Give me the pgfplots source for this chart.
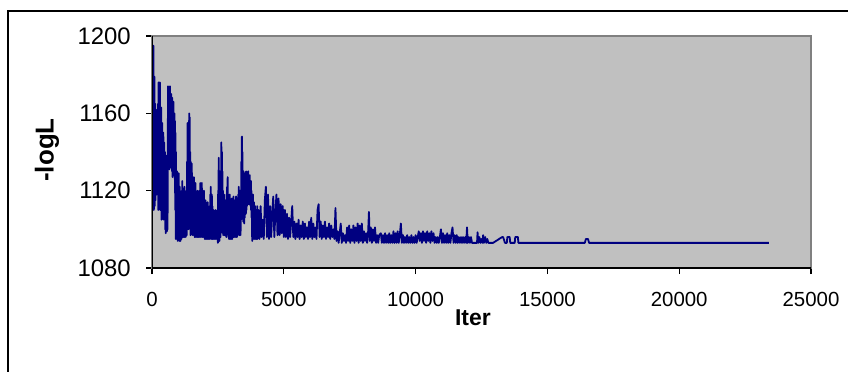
\documentclass[border=0pt]{standalone}
\usepackage{pgfplots}
\pgfplotsset{compat=1.18}
\usepackage{fontspec}
\setmainfont{Liberation Sans}
\definecolor{plotgray}{HTML}{C0C0C0}
\definecolor{navyline}{HTML}{000080}
\definecolor{bordergray}{HTML}{808080}
\begin{document}
\begin{tikzpicture}[x=1bp,y=1bp]
\useasboundingbox (0,0) rectangle (848,371);
\begin{scope}
\clip (0,0) rectangle (848,371);
\draw[line width=2bp] (8,-20) rectangle (860,360);
\end{scope}
\node[rotate=90, font=\fontsize{26}{26}\selectfont\bfseries, inner sep=0pt, anchor=center] at (47,221) {-logL};
\begin{axis}[
  at={(152bp,103bp)}, anchor=south west,
  scale only axis, width=659bp, height=232bp,
  xmin=0, xmax=25000, ymin=1080, ymax=1200,
  xtick={0,5000,10000,15000,20000,25000},
  ytick={1080,1120,1160,1200},
  scaled x ticks=false,
  /pgf/number format/assume math mode=true,
  /pgf/number format/1000 sep={},
  axis background/.style={fill=plotgray},
  axis line style={draw=bordergray, line width=1.2bp},
  tick align=outside, major tick length=6bp,
  xtick pos=bottom, ytick pos=left,
  tick style={black, line width=1.2bp},
  xticklabel style={font=\fontsize{20.5}{20.5}\selectfont, inner sep=0pt, anchor=north, yshift=-18bp},
  yticklabel style={font=\fontsize{24}{24}\selectfont, inner sep=0pt, anchor=east, xshift=-15bp},
  xlabel={Iter},
  xlabel style={font=\fontsize{23}{23}\selectfont\bfseries, at={(axis description cs:0.487,0)}, anchor=north, inner sep=0pt, yshift=-42bp},
]
\addplot[navyline, line width=1.8bp, line join=round] table[row sep=\\] {
x y\\
40 1120\\ 55 1195\\ 70 1110\\ 80 1170\\ 90 1179\\
100 1112\\ 110 1150\\ 120 1165\\ 130 1115\\ 140 1140\\ 150 1162\\ 160 1120\\ 170 1155\\ 180 1118\\ 190 1160\\
200 1130\\ 210 1145\\ 220 1119\\ 230 1165\\ 240 1110\\ 250 1176\\ 260 1140\\ 270 1112\\ 280 1170\\ 290 1125\\
300 1176\\ 310 1110\\ 320 1150\\ 330 1135\\ 340 1112\\ 350 1163\\ 360 1105\\ 370 1145\\ 380 1120\\ 390 1155\\
400 1106\\ 410 1140\\ 420 1115\\ 430 1150\\ 440 1105\\ 450 1130\\ 460 1145\\ 470 1108\\ 480 1125\\ 490 1140\\
500 1100\\ 510 1132\\ 520 1098\\ 530 1120\\ 540 1138\\ 550 1100\\ 560 1125\\ 570 1099\\ 580 1115\\ 590 1100\\
600 1150\\ 610 1174\\ 620 1132\\ 630 1165\\ 640 1140\\ 650 1172\\ 660 1131\\ 670 1160\\ 680 1174\\ 690 1135\\
700 1168\\ 710 1145\\ 720 1132\\ 730 1170\\ 740 1140\\ 750 1160\\ 760 1130\\ 770 1168\\ 780 1127\\ 790 1155\\
800 1140\\ 810 1166\\ 820 1128\\ 830 1150\\ 840 1135\\ 850 1160\\ 860 1126\\ 870 1156\\ 880 1110\\ 890 1150\\
900 1095\\ 910 1140\\ 920 1100\\ 930 1125\\ 940 1095\\ 950 1130\\ 960 1096\\ 970 1118\\ 980 1094\\ 990 1125\\
1000 1100\\ 1010 1129\\ 1020 1095\\ 1030 1115\\ 1040 1094\\ 1050 1122\\ 1060 1098\\ 1070 1110\\ 1080 1094\\ 1090 1119\\
1100 1096\\ 1110 1112\\ 1120 1095\\ 1130 1120\\ 1140 1097\\ 1150 1125\\ 1160 1096\\ 1170 1110\\ 1180 1098\\ 1190 1118\\
1200 1096\\ 1210 1115\\ 1220 1100\\ 1230 1122\\ 1240 1096\\ 1250 1108\\ 1260 1097\\ 1270 1116\\ 1280 1096\\ 1290 1112\\
1300 1098\\ 1310 1120\\ 1320 1097\\ 1330 1135\\ 1340 1110\\ 1350 1155\\ 1360 1120\\ 1370 1150\\ 1380 1100\\ 1390 1145\\
1400 1115\\ 1410 1160\\ 1420 1105\\ 1430 1158\\ 1440 1125\\ 1450 1140\\ 1460 1097\\ 1470 1135\\ 1480 1112\\ 1490 1130\\
1500 1098\\ 1510 1134\\ 1520 1105\\ 1530 1125\\ 1540 1097\\ 1550 1120\\ 1560 1100\\ 1570 1115\\ 1580 1097\\ 1590 1127\\
1600 1099\\ 1610 1118\\ 1620 1096\\ 1630 1110\\ 1640 1098\\ 1650 1124\\ 1660 1096\\ 1670 1112\\ 1680 1100\\ 1690 1116\\
1700 1096\\ 1710 1108\\ 1720 1098\\ 1730 1120\\ 1740 1096\\ 1750 1110\\ 1760 1097\\ 1770 1115\\ 1780 1096\\ 1790 1106\\
1800 1099\\ 1810 1120\\ 1820 1096\\ 1830 1124\\ 1840 1100\\ 1850 1112\\ 1860 1096\\ 1870 1118\\ 1880 1097\\ 1890 1124\\
1900 1098\\ 1910 1108\\ 1920 1096\\ 1930 1115\\ 1940 1097\\ 1950 1110\\ 1960 1096\\ 1970 1120\\ 1980 1098\\ 1990 1112\\
2000 1095\\ 2010 1108\\ 2020 1097\\ 2030 1115\\ 2040 1095\\ 2050 1105\\ 2060 1098\\ 2070 1112\\ 2080 1095\\ 2090 1108\\
2100 1096\\ 2110 1114\\ 2120 1095\\ 2130 1102\\ 2140 1097\\ 2150 1110\\ 2160 1095\\ 2170 1106\\ 2180 1096\\ 2190 1112\\
2200 1095\\ 2210 1118\\ 2220 1100\\ 2230 1122\\ 2240 1096\\ 2250 1110\\ 2260 1095\\ 2270 1118\\ 2280 1097\\ 2290 1112\\
2300 1095\\ 2310 1108\\ 2320 1096\\ 2330 1110\\ 2340 1095\\ 2350 1104\\ 2360 1097\\ 2370 1109\\ 2380 1095\\ 2390 1106\\
2400 1096\\ 2410 1110\\ 2420 1095\\ 2430 1102\\ 2440 1097\\ 2450 1108\\ 2460 1095\\ 2470 1105\\ 2480 1096\\ 2490 1110\\
2500 1093\\ 2510 1120\\ 2520 1100\\ 2530 1137\\ 2540 1098\\ 2550 1125\\ 2560 1094\\ 2570 1130\\ 2580 1105\\ 2590 1118\\
2600 1096\\ 2610 1125\\ 2620 1110\\ 2630 1145\\ 2640 1115\\ 2650 1140\\ 2660 1105\\ 2670 1130\\ 2680 1098\\ 2690 1120\\
2700 1097\\ 2710 1112\\ 2720 1100\\ 2730 1118\\ 2740 1097\\ 2750 1108\\ 2760 1100\\ 2770 1115\\ 2780 1097\\ 2790 1110\\
2800 1098\\ 2810 1112\\ 2820 1096\\ 2830 1118\\ 2840 1100\\ 2850 1122\\ 2860 1105\\ 2870 1127\\ 2880 1098\\ 2890 1118\\
2900 1096\\ 2910 1112\\ 2920 1095\\ 2930 1110\\ 2940 1096\\ 2950 1118\\ 2960 1095\\ 2970 1106\\ 2980 1098\\ 2990 1114\\
3000 1095\\ 3010 1108\\ 3020 1097\\ 3030 1116\\ 3040 1095\\ 3050 1110\\ 3060 1096\\ 3070 1105\\ 3080 1097\\ 3090 1117\\
3100 1096\\ 3110 1108\\ 3120 1098\\ 3130 1115\\ 3140 1096\\ 3150 1106\\ 3160 1097\\ 3170 1112\\ 3180 1096\\ 3190 1117\\
3200 1098\\ 3210 1105\\ 3220 1096\\ 3230 1112\\ 3240 1097\\ 3250 1110\\ 3260 1097\\ 3270 1118\\ 3280 1100\\ 3290 1122\\
3300 1098\\ 3310 1115\\ 3320 1097\\ 3330 1120\\ 3340 1100\\ 3350 1110\\ 3360 1097\\ 3370 1118\\ 3380 1105\\ 3390 1135\\
3400 1112\\ 3410 1148\\ 3420 1110\\ 3430 1140\\ 3440 1106\\ 3450 1125\\ 3460 1104\\ 3470 1130\\ 3480 1108\\ 3490 1126\\
3500 1103\\ 3510 1122\\ 3520 1106\\ 3530 1129\\ 3540 1110\\ 3550 1125\\ 3560 1108\\ 3570 1130\\ 3580 1110\\ 3590 1120\\
3600 1112\\ 3610 1128\\ 3620 1113\\ 3630 1124\\ 3640 1113\\ 3650 1130\\ 3660 1114\\ 3670 1126\\ 3680 1113\\ 3690 1122\\
3700 1114\\ 3710 1128\\ 3720 1113\\ 3730 1118\\ 3740 1112\\ 3750 1125\\ 3760 1110\\ 3770 1120\\ 3780 1106\\ 3790 1118\\
3800 1094\\ 3810 1116\\ 3820 1095\\ 3830 1118\\ 3840 1095\\ 3850 1110\\ 3860 1096\\ 3870 1114\\ 3880 1095\\ 3890 1108\\
3900 1096\\ 3910 1112\\ 3920 1095\\ 3930 1105\\ 3940 1096\\ 3950 1110\\ 3960 1095\\ 3970 1106\\ 3980 1097\\ 3990 1112\\
4000 1095\\ 4040 1110\\ 4080 1095\\ 4120 1112\\ 4160 1096\\ 4200 1105\\ 4240 1095\\ 4280 1115\\ 4320 1122\\ 4360 1096\\
4400 1118\\ 4440 1095\\ 4480 1112\\ 4520 1096\\ 4560 1108\\ 4600 1117\\ 4640 1096\\ 4680 1108\\ 4720 1118\\ 4760 1097\\
4800 1116\\ 4840 1097\\ 4880 1113\\ 4920 1098\\ 4960 1112\\ 5000 1096\\ 5040 1110\\ 5080 1096\\ 5120 1108\\ 5160 1095\\
5200 1106\\ 5240 1096\\ 5280 1104\\ 5320 1112\\ 5360 1096\\ 5400 1104\\ 5440 1095\\ 5480 1103\\ 5520 1096\\ 5560 1105\\
5600 1095\\ 5640 1102\\ 5680 1096\\ 5720 1104\\ 5760 1095\\ 5800 1103\\ 5840 1096\\ 5880 1101\\ 5920 1095\\ 5960 1104\\
6000 1096\\ 6040 1106\\ 6080 1095\\ 6120 1103\\ 6160 1096\\ 6200 1101\\ 6240 1095\\ 6280 1110\\ 6320 1113\\ 6360 1096\\
6400 1104\\ 6440 1095\\ 6480 1102\\ 6520 1096\\ 6560 1104\\ 6600 1095\\ 6640 1101\\ 6680 1096\\ 6720 1103\\ 6760 1095\\
6800 1102\\ 6840 1096\\ 6880 1100\\ 6920 1095\\ 6960 1111\\ 7000 1094\\ 7040 1099\\ 7080 1093\\ 7120 1098\\ 7160 1103\\
7200 1093\\ 7240 1098\\ 7280 1094\\ 7320 1097\\ 7360 1093\\ 7400 1101\\ 7440 1094\\ 7480 1102\\ 7520 1093\\ 7560 1100\\
7600 1094\\ 7640 1102\\ 7680 1093\\ 7720 1101\\ 7760 1094\\ 7800 1103\\ 7840 1093\\ 7880 1102\\ 7920 1094\\ 7960 1103\\
8000 1093\\ 8040 1099\\ 8080 1094\\ 8120 1098\\ 8160 1093\\ 8200 1099\\ 8230 1109\\ 8260 1094\\ 8300 1101\\ 8340 1093\\
8380 1100\\ 8420 1094\\ 8460 1101\\ 8500 1093\\ 8540 1097\\ 8580 1093\\ 8620 1097\\ 8680 1098\\ 8720 1093\\ 8760 1097\\
8800 1093\\ 8840 1098\\ 8880 1093\\ 8920 1097\\ 8960 1093\\ 9000 1098\\ 9040 1093\\ 9080 1097\\ 9120 1093\\ 9160 1099\\
9200 1093\\ 9240 1098\\ 9280 1093\\ 9320 1099\\ 9360 1093\\ 9400 1097\\ 9440 1103\\ 9480 1093\\ 9520 1097\\ 9560 1093\\
9600 1096\\ 9640 1093\\ 9680 1097\\ 9720 1093\\ 9760 1096\\ 9800 1093\\ 9840 1097\\ 9880 1093\\ 9920 1096\\ 9960 1093\\
10000 1097\\ 10040 1093\\ 10080 1096\\ 10120 1099\\ 10160 1094\\ 10200 1098\\ 10240 1093\\ 10280 1099\\ 10320 1094\\ 10360 1098\\
10400 1093\\ 10440 1099\\ 10480 1094\\ 10520 1098\\ 10560 1093\\ 10600 1099\\ 10640 1094\\ 10680 1098\\ 10720 1093\\ 10760 1096\\
10800 1093\\ 10840 1096\\ 10880 1093\\ 10920 1096\\ 10960 1100\\ 11000 1093\\ 11040 1098\\ 11080 1093\\ 11120 1097\\ 11160 1093\\
11200 1098\\ 11240 1093\\ 11280 1097\\ 11320 1093\\ 11360 1098\\ 11400 1101\\ 11440 1093\\ 11480 1097\\ 11520 1093\\ 11560 1097\\
11600 1093\\ 11640 1096\\ 11680 1093\\ 11720 1096\\ 11760 1093\\ 11800 1096\\ 11840 1093\\ 11880 1096\\ 11920 1093\\ 11950 1101\\
11980 1093\\ 12020 1096\\ 12060 1093\\ 12100 1096\\ 12140 1093\\ 12180 1093\\ 12330 1093\\ 12350 1098.5\\ 12380 1093\\ 12420 1096\\
12460 1093\\ 12500 1095\\ 12540 1093\\ 12560 1097\\ 12590 1093\\ 12640 1096\\ 12680 1093\\ 12720 1095\\ 12760 1093\\ 12820 1093\\
12940 1093\\ 13280 1096\\ 13320 1096\\ 13390 1093\\ 13460 1093\\ 13480 1096\\ 13570 1096\\ 13590 1093\\ 13760 1093\\ 13780 1096\\
13880 1096\\ 13900 1093\\ 16420 1093\\ 16460 1095\\ 16540 1095\\ 16580 1093\\ 23400 1093\\
};
\draw[black, line width=1.5bp] (rel axis cs:0,1) -- (rel axis cs:0,0) -- (rel axis cs:1,0);
\end{axis}
\end{tikzpicture}
\end{document}
